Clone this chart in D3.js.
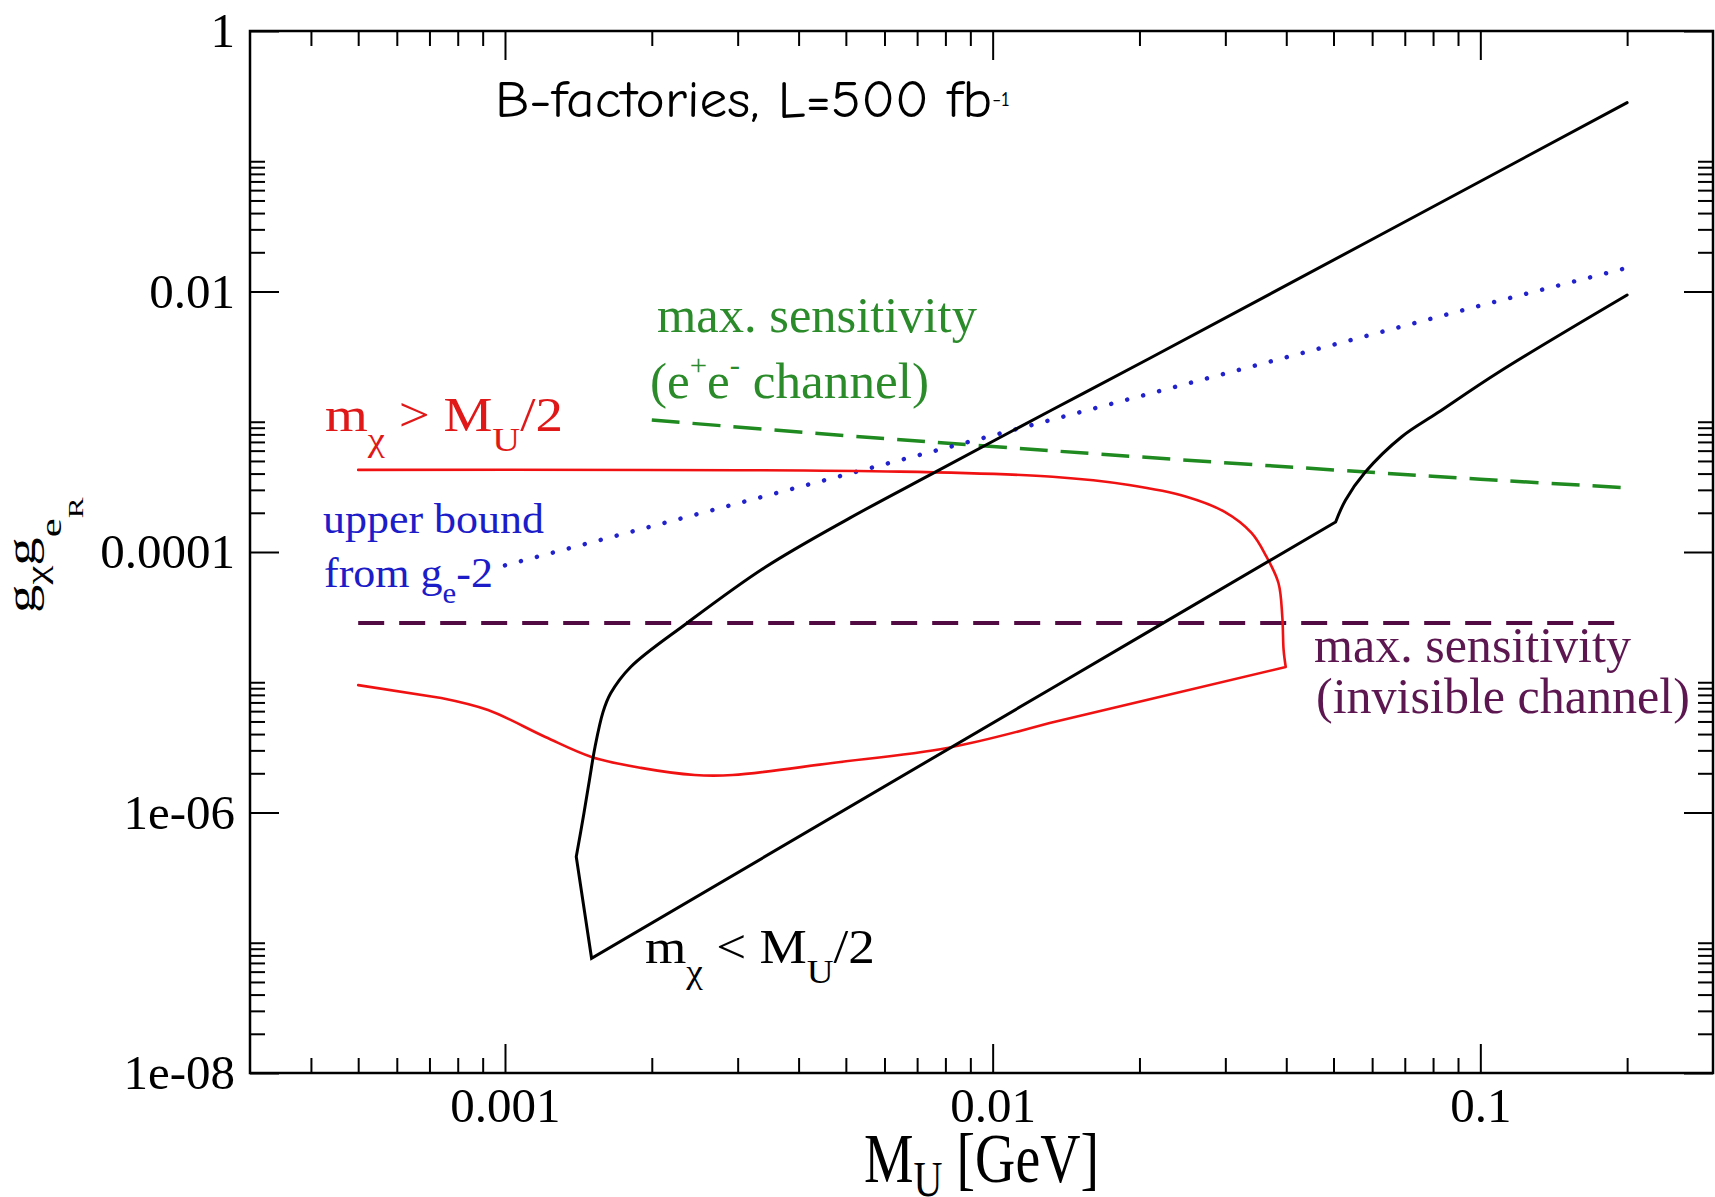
<!DOCTYPE html>
<html><head><meta charset="utf-8">
<script src="https://cdn.jsdelivr.net/npm/d3@7"></script>
<style>html,body{margin:0;padding:0;background:#fff;} svg{display:block;} text{white-space:pre;}</style>
</head><body>
<svg id="chart" width="1715" height="1197"></svg>
<script>
// ---------------- data ----------------
const xTickValues = [0.001, 0.01, 0.1];
const xTickLabels = ["0.001", "0.01", "0.1"];
const yTickValues = [1, 0.01, 0.0001, 1e-6, 1e-8];
const yTickLabels = ["1", "0.01", "0.0001", "1e-06", "1e-08"];

// black contour (m_chi < M_U/2): upper branch, lower vertex, lower branch
const blackBoundary = [
  [0.2, 0.282], [0.021, 3.07e-3], [0.0131, 1.21e-3], [7.64e-3, 4.12e-4],
  [5.09e-3, 1.82e-4], [3.41e-3, 7.6e-5], [2.36e-3, 2.84e-5], [1.81e-3, 1.31e-5],
  [1.647e-3, 8.22e-6], [1.589e-3, 5.92e-6], [1.53e-3, 3.2e-6], [1.49e-3, 1.78e-6],
  [1.452e-3, 9.9e-7], [1.40e-3, 4.58e-7], [1.505e-3, 7.6e-8],
  [0.0131, 8.8e-6], [0.021, 2.48e-5], [0.0505, 1.70e-4], [0.0529, 2.5e-4],
  [0.0581, 4.11e-4], [0.0689, 7.64e-4], [0.0817, 1.17e-3],
  [0.109, 2.4e-3], [0.2, 9.4e-3]
];
// red contour (m_chi > M_U/2)
const redBoundary = [
  [5e-4, 4.27e-4], [6.45e-3, 4.14e-4], [0.01327, 3.78e-4], [0.01905, 3.27e-4],
  [0.02497, 2.66e-4], [0.02985, 2.04e-4], [0.03395, 1.40e-4], [0.03643, 9.2e-5],
  [0.03855, 5.78e-5], [0.03926, 3.18e-5], [0.0395, 1.77e-5], [0.0399, 1.31e-5],
  [0.021, 7.4e-6], [0.01309, 4.86e-6], [8.07e-3, 3.13e-6], [4.69e-3, 2.4e-6],
  [2.93e-3, 1.94e-6], [2.45e-3, 1.94e-6], [1.9e-3, 2.2e-6], [1.505e-3, 2.67e-6],
  [1.21e-3, 3.8e-6], [9.23e-4, 6.12e-6], [7.4e-4, 7.57e-6], [5e-4, 9.5e-6]
];
// max. sensitivity, e+e- channel (green dashed)
const greenEE = [
  [0.002, 1.03e-3], [0.005, 7.83e-4], [0.01, 6.46e-4], [0.02, 5.37e-4],
  [0.05, 4.27e-4], [0.1, 3.62e-4], [0.2, 3.11e-4]
];
// upper bound from g_e-2 (blue dotted)
const blueGe2 = [[0.001, 7.9e-5], [0.1, 7.8e-3], [0.2, 0.0152]];
// max. sensitivity, invisible channel (purple dashed)
const purpleInvisible = [[5e-4, 2.85e-5], [0.2, 2.85e-5]];

// ---------------- layout ----------------
const SERIF = "'Liberation Serif', 'Times New Roman', Times, serif";
const SANS = "'Comic Sans MS', 'Comic Neue', 'DejaVu Sans', sans-serif";
const svg = d3.select("#chart");
svg.append("rect").attr("width", 1715).attr("height", 1197).attr("fill", "#fff");

const L = 250, R = 1713, T = 31, B = 1073;
const x = d3.scaleLog().domain([3e-4, 0.3]).range([L, R]);
const y = d3.scaleLog().domain([1e-8, 1]).range([B, T]);

// minor tick positions
const xMinor = [];
for (let e = -4; e <= -1; e++) for (let k = 2; k <= 9; k++) {
  const v = k * Math.pow(10, e);
  if (v > 3e-4 * 1.001 && v < 0.3 * 0.999) xMinor.push(v);
}
const yMinor = [];
[-2, -4, -6, -8].forEach(e => { for (let k = 2; k <= 10; k++) yMinor.push(k * Math.pow(10, e)); });

function styleAxis(g, labels) {
  g.select(".domain").remove();
  g.selectAll(".tick line").attr("stroke", "#000").attr("stroke-width", 2);
  g.selectAll("text").attr("font-family", SERIF).attr("font-size", 49).attr("fill", "#000");
  if (!labels) g.selectAll("text").remove();
}
const MAJ = 29, MIN = 15;
// bottom
svg.append("g").attr("transform", `translate(0,${B})`)
  .call(d3.axisBottom(x).tickValues(xTickValues).tickFormat((d, i) => xTickLabels[i])
    .tickSizeInner(-MAJ).tickSizeOuter(0).tickPadding(14)).call(g => styleAxis(g, true));
svg.append("g").attr("transform", `translate(0,${B})`)
  .call(d3.axisBottom(x).tickValues(xMinor).tickFormat("").tickSizeInner(-MIN).tickSizeOuter(0))
  .call(g => styleAxis(g, false));
// top
svg.append("g").attr("transform", `translate(0,${T})`)
  .call(d3.axisTop(x).tickValues(xTickValues).tickSizeInner(-MAJ).tickSizeOuter(0)).call(g => styleAxis(g, false));
svg.append("g").attr("transform", `translate(0,${T})`)
  .call(d3.axisTop(x).tickValues(xMinor).tickSizeInner(-MIN).tickSizeOuter(0)).call(g => styleAxis(g, false));
// left
svg.append("g").attr("transform", `translate(${L},0)`)
  .call(d3.axisLeft(y).tickValues(yTickValues).tickFormat((d, i) => yTickLabels[i])
    .tickSizeInner(-MAJ).tickSizeOuter(0).tickPadding(15)).call(g => styleAxis(g, true));
svg.append("g").attr("transform", `translate(${L},0)`)
  .call(d3.axisLeft(y).tickValues(yMinor).tickFormat("").tickSizeInner(-MIN).tickSizeOuter(0))
  .call(g => styleAxis(g, false));
// right
svg.append("g").attr("transform", `translate(${R},0)`)
  .call(d3.axisRight(y).tickValues(yTickValues).tickSizeInner(-MAJ).tickSizeOuter(0)).call(g => styleAxis(g, false));
svg.append("g").attr("transform", `translate(${R},0)`)
  .call(d3.axisRight(y).tickValues(yMinor).tickSizeInner(-MIN).tickSizeOuter(0)).call(g => styleAxis(g, false));

// frame
svg.append("rect").attr("x", L).attr("y", T).attr("width", R - L).attr("height", B - T)
  .attr("fill", "none").attr("stroke", "#000").attr("stroke-width", 2.5);

// ---------------- curves ----------------
const straight = d3.line().x(d => x(d[0])).y(d => y(d[1]));
const smooth = d3.line().x(d => x(d[0])).y(d => y(d[1])).curve(d3.curveCatmullRom.alpha(0.5));
// split a series into pieces at sharp corners; each piece = [fromIndex, toIndex, generator]
function piecewise(data, pieces) {
  return pieces.map(([a, b, gen]) => gen(data.slice(a, b + 1))).join("");
}
const curves = [
  {d: straight(purpleInvisible), stroke: "#520a42", width: 4, dash: "26,15", cap: "butt"},
  {d: smooth(greenEE), stroke: "#1f8a1f", width: 3.5, dash: "28,13", cap: "butt"},
  {d: straight(blueGe2), stroke: "#2222cc", width: 4.5, dash: "0.01,16.5", cap: "round"},
  {d: piecewise(redBoundary, [[0, 11, smooth], [11, 13, straight], [13, 22, smooth], [22, 23, straight]]),
   stroke: "#f01212", width: 2.6, dash: null, cap: "round"},
  {d: piecewise(blackBoundary, [[0, 13, smooth], [13, 17, straight], [17, 23, smooth]]),
   stroke: "#000", width: 3, dash: null, cap: "round"}
];
curves.forEach(c => {
  svg.append("path").attr("d", c.d).attr("fill", "none")
    .attr("stroke", c.stroke).attr("stroke-width", c.width)
    .attr("stroke-dasharray", c.dash).attr("stroke-linecap", c.cap)
    .attr("stroke-linejoin", "miter");
});

// ---------------- text ----------------
function richText(spec) {
  const g = svg.append("g");
  const t = g.append("text").attr("font-family", spec.family).attr("font-size", spec.fs).attr("fill", spec.fill);
  let cur = 0;
  spec.parts.forEach(p => {
    const s = p.s || 1, o = p.o || 0;
    t.append("tspan").attr("font-size", spec.fs * s).attr("dy", (o - cur) * spec.fs).text(p.t);
    cur = o;
  });
  const w = t.node().getBBox().width;
  const sx = spec.w ? spec.w / w : 1;
  const sy = spec.sy || 1;
  const rot = spec.rot ? ` rotate(${spec.rot})` : "";
  g.attr("transform", `translate(${spec.x},${spec.y})${rot} scale(${sx},${sy})`);
}
const GREEN_T = "#2b8b2b", RED_T = "#e01818", BLUE_T = "#1c1cc8", PURPLE_T = "#5c1650";
const labels = [
  {x: 495, y: 117, w: 515, fs: 52, family: SANS, fill: "#000",
   parts: [{t: "B-factories, L=500 fb"}, {t: "-1", s: 0.4, o: -0.22}]},
  {x: 657, y: 332, w: 320, fs: 50, family: SERIF, fill: GREEN_T, parts: [{t: "max. sensitivity"}]},
  {x: 650, y: 398, w: 279, fs: 50, family: SERIF, fill: GREEN_T,
   parts: [{t: "(e"}, {t: "+", s: 0.6, o: -0.46}, {t: "e"}, {t: "-", s: 0.6, o: -0.46}, {t: " channel)"}]},
  {x: 325, y: 431, w: 238, fs: 48, family: SERIF, fill: RED_T,
   parts: [{t: "m"}, {t: "χ", s: 0.7, o: 0.42}, {t: " > M"}, {t: "U", s: 0.7, o: 0.42}, {t: "/2"}]},
  {x: 323, y: 533, w: 221, fs: 42, family: SERIF, fill: BLUE_T, parts: [{t: "upper bound"}]},
  {x: 324, y: 587, w: 169, fs: 42, family: SERIF, fill: BLUE_T,
   parts: [{t: "from g"}, {t: "e", s: 0.7, o: 0.38}, {t: "-2"}]},
  {x: 645, y: 963, w: 230, fs: 48, family: SERIF, fill: "#000",
   parts: [{t: "m"}, {t: "χ", s: 0.7, o: 0.42}, {t: " < M"}, {t: "U", s: 0.7, o: 0.42}, {t: "/2"}]},
  {x: 1314, y: 662, w: 317, fs: 50, family: SERIF, fill: PURPLE_T, parts: [{t: "max. sensitivity"}]},
  {x: 1316, y: 713, w: 374, fs: 50, family: SERIF, fill: PURPLE_T, parts: [{t: "(invisible channel)"}]},
  // axis titles
  {x: 864, y: 1182, w: 235, fs: 54, sy: 1.28, family: SERIF, fill: "#000",
   parts: [{t: "M"}, {t: "U", s: 0.72, o: 0.2}, {t: " [GeV]"}]},
  {x: 35, y: 613, w: 116, fs: 40, rot: -90, family: SERIF, fill: "#000",
   parts: [{t: "g"}, {t: "χ", s: 0.75, o: 0.3}, {t: "g"}, {t: "e", s: 0.75, o: 0.65}, {t: "R", s: 0.55, o: 1.2}]}
];
labels.forEach(richText);
</script>
</body></html>
